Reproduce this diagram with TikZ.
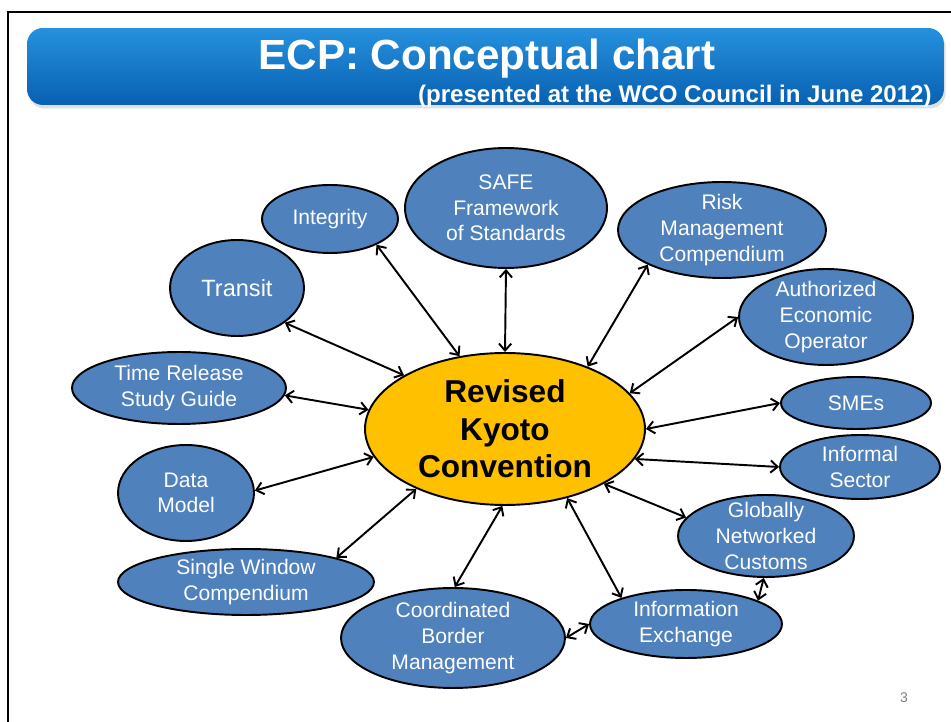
\documentclass[tikz,border=0pt]{standalone}
\usepackage{fontspec}
\setmainfont{Liberation Sans}
\usepackage{tikz}
\usetikzlibrary{shapes,arrows.meta,shadows}
\usetikzlibrary{positioning,calc}

\definecolor{topicblue}{RGB}{79,129,189}
\definecolor{kyotogold}{RGB}{255,192,0}
\definecolor{barlight}{RGB}{38,145,222}
\definecolor{bardark}{RGB}{8,96,178}

\tikzset{
	topic/.style={ellipse,draw=black,line width=1.1pt,fill=topicblue,inner sep=0pt},
	topictext/.style={text=white,align=center,font=\fontsize{12}{14.6}\selectfont},
	hub/.style={ellipse,draw=black,line width=1.1pt,fill=kyotogold,inner sep=0pt},
	link/.style={{Straight Barb[length=4pt,width=7pt]}-{Straight Barb[length=4pt,width=7pt]},line width=1.1pt}
}

\begin{document}
\begin{tikzpicture}[x=0.02cm,y=-0.02cm]
	\useasboundingbox (0,0) rectangle (951,722);
	\fill[white] (0,0) rectangle (951,722);
	\draw[line width=1.4pt] (8,722) -- (8,12) -- (951,12);
	% title bar
	\node[rounded corners=9pt,top color=barlight,bottom color=bardark,
		drop shadow={opacity=0.25,shadow xshift=1pt,shadow yshift=-2pt},
		minimum width=18.34cm,minimum height=1.54cm,inner sep=0pt] (bar) at (485.5,66.5) {};
	\node[anchor=base,text=white,font=\fontsize{24}{28}\selectfont\bfseries] (title) at (487,70) {ECP: Conceptual chart};
	\node[anchor=base east,text=white,font=\fontsize{13.7}{16}\selectfont\bfseries,inner sep=0pt] (subtitle) at (932,103) {(presented at the WCO Council in June 2012)};

	\node[hub,minimum width=5.6cm,minimum height=3.04cm,
		label={[align=center,font=\fontsize{18}{21.3}\selectfont\bfseries]center:Revised\\Kyoto\\Convention}] (rkc) at (505,429) {};

	\node[topic,minimum width=2.72cm,minimum height=1.36cm,label={[topictext]center:Integrity}] (integ) at (330,219) {};
	\node[topic,minimum width=4.04cm,minimum height=2.4cm,label={[topictext]center:SAFE\\Framework\\of Standards}] (safe) at (506,208) {};
	\node[topic,minimum width=4.16cm,minimum height=1.92cm,label={[topictext]center:Risk\\Management\\Compendium}] (risk) at (722,230) {};
	\node[topic,minimum width=2.68cm,minimum height=1.92cm,label={[topictext,font=\fontsize{13.4}{16}\selectfont]center:Transit}] (transit) at (237,288) {};
	\node[topic,minimum width=3.48cm,minimum height=1.92cm,label={[topictext]center:Authorized\\Economic\\Operator}] (aeo) at (826,317) {};
	\node[topic,minimum width=3.0cm,minimum height=1.04cm,label={[topictext]center:SMEs}] (smes) at (856,403) {};
	\node[topic,minimum width=3.2cm,minimum height=1.28cm,label={[topictext]center:Informal\\Sector}] (informal) at (860,467) {};
	\node[topic,minimum width=4.28cm,minimum height=1.44cm,label={[topictext]center:Time Release\\Study Guide}] (trsg) at (179,388) {};
	\node[topic,minimum width=2.72cm,minimum height=1.92cm,label={[topictext]center:Data\\Model}] (dm) at (186,493) {};
	\node[topic,minimum width=5.12cm,minimum height=1.32cm,label={[topictext]center:Single Window\\Compendium}] (swc) at (246,582) {};
	\node[topic,minimum width=4.48cm,minimum height=2.0cm,label={[topictext]center:Coordinated\\Border\\Management}] (cbm) at (453,638) {};
	\node[topic,minimum width=3.84cm,minimum height=1.36cm,label={[topictext]center:Information\\Exchange}] (ie) at (686,624) {};
	\node[topic,minimum width=3.52cm,minimum height=1.64cm,label={[topictext]center:Globally\\Networked\\Customs}] (gnc) at (766,536) {};

	\path[link]
	(integ.-29) edge (rkc.122)
	(transit.-36) edge (rkc.152)
	(safe.270) edge (rkc.90)
	(risk.205) edge (rkc.37)
	(aeo.180) edge (rkc.16.5)
	(smes.180) edge (rkc.0)
	(informal.180) edge (rkc.-13)
	(trsg.-4) edge (rkc.172)
	(dm.2.5) edge (rkc.192.5)
	(swc.15) edge (rkc.214.6)
	(cbm.88) edge (rkc.268.5)
	(ie.158.6) edge (rkc.-48.5)
	(gnc.167.5) edge (rkc.-29)
	(gnc.267) edge (ie.18.7)
	(cbm.0) edge (ie.180);

	\node[text=gray,font=\fontsize{8}{9}\selectfont] (pageno) at (904,698) {3};
\end{tikzpicture}
\end{document}
